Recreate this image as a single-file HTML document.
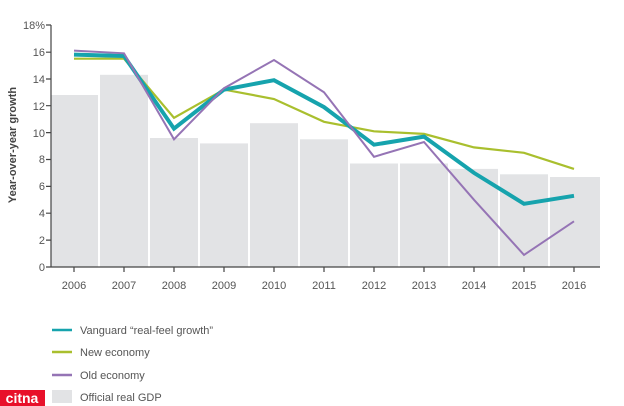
<!DOCTYPE html>
<html><head><meta charset="utf-8"><style>
html,body{margin:0;padding:0;background:#fff;width:624px;height:406px;overflow:hidden}
</style></head><body>
<svg width="624" height="406" xmlns="http://www.w3.org/2000/svg" font-family="Liberation Sans, sans-serif">
<g fill="#e2e3e5">
<rect x="51" y="95" width="47" height="172"/>
<rect x="100" y="74.8" width="48" height="192.2"/>
<rect x="150" y="138" width="48" height="129"/>
<rect x="200" y="143.4" width="48" height="123.6"/>
<rect x="250" y="123.2" width="48" height="143.8"/>
<rect x="300" y="139.3" width="48" height="127.7"/>
<rect x="350" y="163.5" width="48" height="103.5"/>
<rect x="400" y="163.5" width="48" height="103.5"/>
<rect x="450" y="168.9" width="48" height="98.1"/>
<rect x="500" y="174.3" width="48" height="92.7"/>
<rect x="550" y="177" width="50" height="90"/>
</g>
<g stroke="#444" stroke-width="1.2" fill="none">
<line x1="51" y1="25" x2="51" y2="267"/>
<line x1="51" y1="267" x2="600" y2="267"/>
<path d="M46 25H51M46 52.2H51M46 79H51M46 105.7H51M46 132.6H51M46 159.5H51M46 186.4H51M46 213.2H51M46 240.1H51M46 267H51"/>
<path d="M74 267v5M124 267v5M174 267v5M224 267v5M274 267v5M324 267v5M374 267v5M424 267v5M474 267v5M524 267v5M574 267v5"/>
</g>
<g font-size="11" fill="#555" text-anchor="end">
<text x="45" y="29" textLength="22" lengthAdjust="spacingAndGlyphs">18%</text>
<text x="45" y="56">16</text><text x="45" y="83">14</text><text x="45" y="110">12</text><text x="45" y="137">10</text><text x="45" y="163">8</text><text x="45" y="190">6</text><text x="45" y="217">4</text><text x="45" y="244">2</text><text x="45" y="271">0</text>
</g>
<g font-size="11" fill="#555" text-anchor="middle">
<text x="74" y="289">2006</text><text x="124" y="289">2007</text><text x="174" y="289">2008</text><text x="224" y="289">2009</text><text x="274" y="289">2010</text><text x="324" y="289">2011</text><text x="374" y="289">2012</text><text x="424" y="289">2013</text><text x="474" y="289">2014</text><text x="524" y="289">2015</text><text x="574" y="289">2016</text>
</g>
<text transform="translate(16,145) rotate(-90)" font-size="11" font-weight="bold" fill="#444" text-anchor="middle">Year-over-year growth</text>
<g fill="none" stroke-linejoin="miter">
<polyline stroke="#a9bf2e" stroke-width="2.2" points="74,58.7 124,58.7 174,117.8 224,89.6 274,99 324,121.8 374,131.3 424,133.9 474,147.4 524,152.8 574,168.9"/>
<polyline stroke="#16a3ad" stroke-width="4" points="74,54.6 124,56 174,128.6 224,89.6 274,80.2 324,107.1 374,144.7 424,136.6 474,172.9 524,203.8 574,195.8"/>
<polyline stroke="#9574b5" stroke-width="2" points="74,50.6 124,53.3 174,139.3 224,88.2 274,60 324,92.3 374,156.8 424,142 474,199.8 524,254.9 574,221.3"/>
</g>
<line x1="52" y1="330" x2="72" y2="330" stroke="#16a3ad" stroke-width="2.5"/>
<line x1="52" y1="352" x2="72" y2="352" stroke="#a9bf2e" stroke-width="2.5"/>
<line x1="52" y1="375" x2="72" y2="375" stroke="#9574b5" stroke-width="2.5"/>
<rect x="52" y="390" width="20" height="13" fill="#e2e3e5"/>
<g font-size="11" fill="#555">
<text x="80" y="334">Vanguard “real-feel growth”</text>
<text x="80" y="356">New economy</text>
<text x="80" y="379">Old economy</text>
<text x="80" y="401">Official real GDP</text>
</g>
<rect x="0" y="390" width="45" height="16" fill="#e8102a"/>
<text x="22" y="403" font-size="14" font-weight="bold" fill="#fff" text-anchor="middle">citna</text>
</svg>
</body></html>
